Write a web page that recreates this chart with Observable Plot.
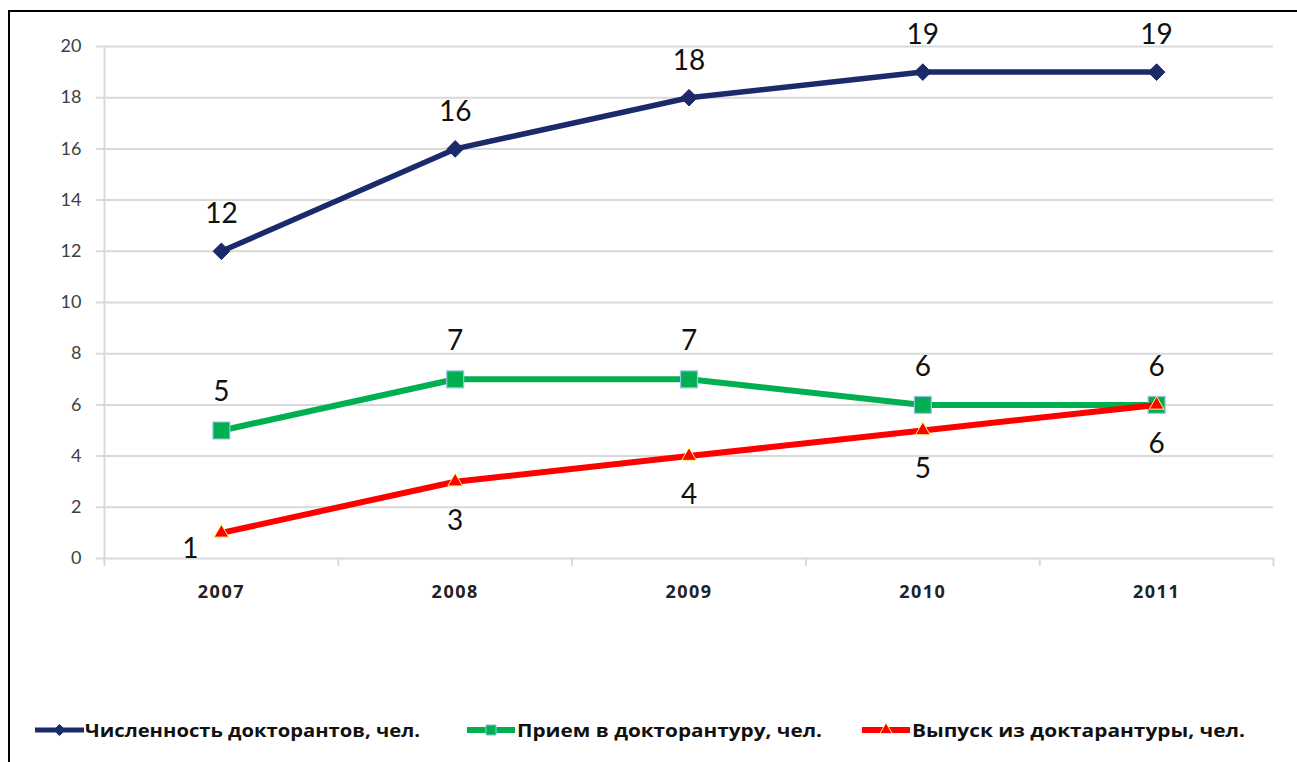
<!DOCTYPE html>
<html><head><meta charset="utf-8">
<script src="https://cdn.jsdelivr.net/npm/d3@7"></script>
<script src="https://cdn.jsdelivr.net/npm/@observablehq/plot@0.6"></script>
<style>
body{margin:0;background:#fff;width:1297px;height:762px;overflow:hidden;position:relative;}
#frame{position:absolute;left:8px;top:10px;width:1400px;height:800px;border-left:2px solid #000;border-top:2px solid #000;}
#chart{position:absolute;left:0;top:0;}
#legend{position:absolute;left:0;top:700px;}
</style></head>
<body>
<div id="frame"></div>
<div id="chart"></div>
<div id="legend"></div>
<script>
const years = [2007, 2008, 2009, 2010, 2011];
const doctoral = [12, 16, 18, 19, 19];
const admission = [5, 7, 7, 6, 6];
const graduation = [1, 3, 4, 5, 6];
const seriesNames = ["Численность докторантов, чел.", "Прием в докторантуру, чел.", "Выпуск из доктарантуры, чел."];
const yTicks = [0, 2, 4, 6, 8, 10, 12, 14, 16, 18, 20];

const navy = "#1b2a6b", green = "#00b050", red = "#ff0000";
const boundaries = [years[0] - 0.5, ...years.map(y => y + 0.5)];
const grid = "#d9d9d9";
const lblFont = "Lato, 'Open Sans', sans-serif";

const plot = Plot.plot({
  width: 1297, height: 762,
  marginLeft: 104, marginRight: 24, marginTop: 46, marginBottom: 204,
  x: {type: "linear", domain: [boundaries[0], boundaries[boundaries.length - 1]]},
  y: {domain: [0, 20]},
  style: {background: "transparent", overflow: "visible"},
  marks: [
    Plot.gridY(yTicks, {stroke: grid, strokeOpacity: 1, strokeWidth: 2}),
    Plot.ruleX([boundaries[0]], {stroke: grid, strokeWidth: 2}),
    Plot.axisY({ticks: yTicks, tickSize: 8, tickPadding: 15, stroke: grid, strokeWidth: 2, fill: "#404040", fontSize: 18, fontFamily: lblFont}),
    Plot.axisX({ticks: boundaries, tickSize: 8, tickFormat: () => "", stroke: grid, strokeWidth: 2}),
    Plot.axisX({ticks: years, tickSize: 0, tickPadding: 27, tickFormat: d => String(d), fill: "#222", fontSize: 18, fontWeight: "bold", fontFamily: "'Open Sans', sans-serif", label: null}),
    Plot.line(doctoral, {x: years, y: doctoral, stroke: navy, strokeWidth: 5.5}),
    Plot.dot(doctoral, {x: years, y: doctoral, symbol: "diamond2", r: 7.5, fill: navy, stroke: navy, strokeWidth: 1}),
    Plot.line(admission, {x: years, y: admission, stroke: green, strokeWidth: 6}),
    Plot.dot(admission, {x: years, y: admission, symbol: "square2", r: 10.8, fill: green, stroke: "#9dc3e6", strokeWidth: 1.2}),
    Plot.line(graduation, {x: years, y: graduation, stroke: red, strokeWidth: 6}),
    Plot.dot(graduation, {x: years, y: graduation, symbol: "triangle2", r: 7, fill: red, stroke: "#ffff66", strokeWidth: 1}),
    Plot.text(doctoral, {x: years, y: doctoral, text: d => String(d), dy: -37, fontSize: 28, fontFamily: lblFont, fill: "#111"}),
    Plot.text(admission, {x: years, y: admission, text: d => String(d), dy: -38, fontSize: 28, fontFamily: lblFont, fill: "#111"}),
    Plot.text(graduation, {x: years, y: graduation, text: d => String(d), dy: 39, fontSize: 28, fontFamily: lblFont, fill: "#111",
      filter: (d, i) => i > 0}),
    Plot.text([graduation[0]], {x: [years[0]], y: [graduation[0]], text: d => String(d), dx: -31, dy: 16, fontSize: 28, fontFamily: lblFont, fill: "#111"})
  ]
});
document.getElementById("chart").appendChild(plot);
d3.select(plot).selectAll('g[aria-label="x-axis tick label"] text').style("letter-spacing", "1.5px");

// Legend
const lsvg = d3.select("#legend").append("svg").attr("width", 1297).attr("height", 60);
const items = [
  {name: seriesNames[0], color: navy, x0: 35, x1: 84, tx: 85, tw: 335, sym: d3.symbolDiamond2, size: 80, stroke: navy, lw: 5},
  {name: seriesNames[1], color: green, x0: 467, x1: 515, tx: 517, tw: 305, sym: d3.symbolSquare2, size: 130, stroke: "#9dc3e6", lw: 6},
  {name: seriesNames[2], color: red, x0: 862, x1: 910, tx: 912, tw: 333, sym: d3.symbolTriangle2, size: 110, stroke: "#ffff66", lw: 6}
];
const ly = 30;
items.forEach(it => {
  const g = lsvg.append("g");
  g.append("line").attr("x1", it.x0).attr("x2", it.x1).attr("y1", ly).attr("y2", ly)
    .attr("stroke", it.color).attr("stroke-width", it.lw);
  g.append("path").attr("d", d3.symbol(it.sym, it.size)()).attr("transform", `translate(${(it.x0 + it.x1) / 2},${ly})`)
    .attr("fill", it.color).attr("stroke", it.stroke).attr("stroke-width", 1);
  g.append("text").attr("x", it.tx).attr("y", ly + 6.5).attr("textLength", it.tw).attr("lengthAdjust", "spacingAndGlyphs")
    .attr("font-family", "'Open Sans', sans-serif").attr("font-weight", 700).attr("font-size", 17.5).attr("fill", "#111")
    .text(it.name);
});
</script>
</body></html>
